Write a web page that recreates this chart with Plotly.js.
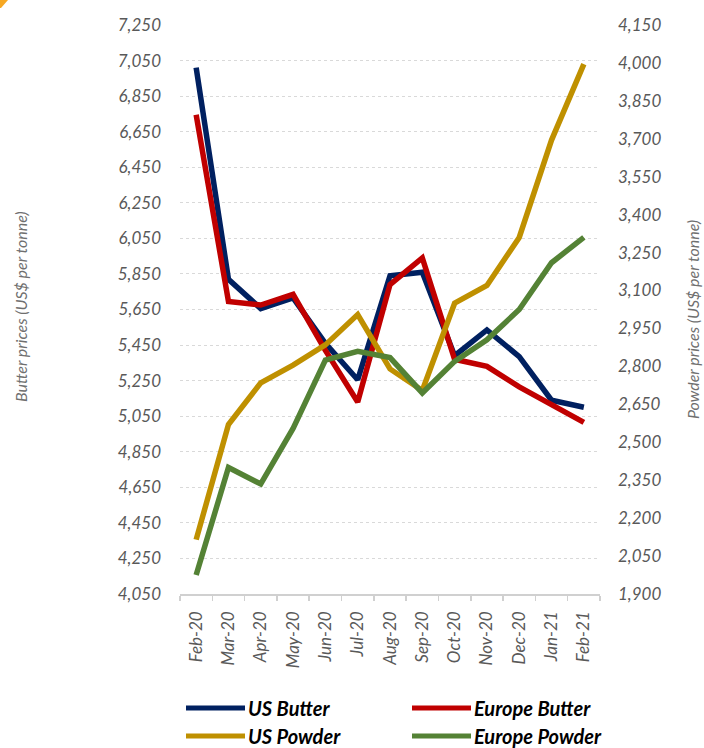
<!DOCTYPE html>
<html>
<head>
<meta charset="utf-8">
<script src="https://cdn.plot.ly/plotly-3.0.1.min.js"></script>
<style>
  html, body { margin: 0; padding: 0; background: #ffffff; }
  #chart { width: 704px; height: 748px; }
</style>
</head>
<body>
<div id="chart"></div>
<script>
// Monthly butter and milk powder prices, US$ per tonne
const months = ['Feb-20', 'Mar-20', 'Apr-20', 'May-20', 'Jun-20', 'Jul-20', 'Aug-20',
                'Sep-20', 'Oct-20', 'Nov-20', 'Dec-20', 'Jan-21', 'Feb-21'];

const usButter     = [7010, 5820, 5655, 5715, 5460, 5255, 5840, 5860, 5390, 5535, 5385, 5140, 5100];
const europeButter = [6745, 5695, 5675, 5735, 5420, 5130, 5790, 5940, 5370, 5330, 5215, 5115, 5015];
const usPowder     = [2115, 2570, 2735, 2805, 2885, 3005, 2790, 2705, 3050, 3120, 3310, 3695, 3995];
const europePowder = [1975, 2400, 2335, 2555, 2825, 2860, 2835, 2695, 2820, 2905, 3025, 3210, 3310];

const seriesNames  = ['US Butter', 'Europe Butter', 'US Powder', 'Europe Powder'];
const seriesColors = ['#002060', '#C00000', '#BF9000', '#548235'];

const W = 704, H = 748;
const M = { l: 180, r: 104, t: 25, b: 154 };
const plotW = W - M.l - M.r;
const plotH = H - M.t - M.b;
// pixel position -> paper coordinates
const px = x => (x - M.l) / plotW;
const py = y => (H - M.b - y) / plotH;

const fam = 'Lato, "Open Sans", sans-serif';
const tickFont = { family: fam, size: 17, color: '#595959', style: 'italic' };
const titleFont = { family: fam, size: 16, color: '#6f6f6f', style: 'italic' };

function lineTrace(values, i, axis) {
  return {
    type: 'scatter',
    mode: 'lines',
    x: months,
    y: values,
    name: seriesNames[i],
    yaxis: axis,
    line: { color: seriesColors[i], width: 5.5 },
    showlegend: false,
    hoverinfo: 'x+y+name'
  };
}

const data = [
  lineTrace(usButter, 0, 'y'),
  lineTrace(europeButter, 1, 'y'),
  lineTrace(usPowder, 2, 'y2'),
  lineTrace(europePowder, 3, 'y2')
];

// Two-column legend under the axis
const legendSlots = [
  { x: 186, y: 708 }, { x: 412, y: 708 },
  { x: 186, y: 736 }, { x: 412, y: 736 }
];
const shapes = legendSlots.map((s, i) => ({
  type: 'line', xref: 'paper', yref: 'paper',
  x0: px(s.x), x1: px(s.x + 59), y0: py(s.y), y1: py(s.y),
  line: { color: seriesColors[i], width: 5 }
}));
// small orange corner mark
shapes.push({
  type: 'path', xref: 'paper', yref: 'paper',
  path: `M ${px(0)} ${py(0)} L ${px(8)} ${py(0)} L ${px(1)} ${py(8)} L ${px(0)} ${py(8)} Z`,
  fillcolor: '#F7A823', line: { width: 0 }
});

const annotations = legendSlots.map((s, i) => ({
  xref: 'paper', yref: 'paper',
  x: px(s.x + 60), y: py(s.y),
  xanchor: 'left', yanchor: 'middle',
  text: seriesNames[i], showarrow: false,
  font: { family: fam, size: 20, color: '#000000', style: 'italic', weight: 'bold' }
}));
annotations.push({
  xref: 'paper', yref: 'paper', x: px(20), y: py(307),
  xanchor: 'center', yanchor: 'middle', textangle: -90,
  text: 'Butter prices (US$ per tonne)', showarrow: false, font: titleFont
});
annotations.push({
  xref: 'paper', yref: 'paper', x: px(693), y: py(320),
  xanchor: 'center', yanchor: 'middle', textangle: -90,
  text: 'Powder prices (US$ per tonne)', showarrow: false, font: titleFont
});

const layout = {
  width: W, height: H,
  margin: M,
  paper_bgcolor: '#ffffff',
  plot_bgcolor: '#ffffff',
  showlegend: false,
  xaxis: {
    type: 'category',
    range: [-0.5, months.length - 0.5],
    tickson: 'boundaries',
    ticks: 'outside', ticklen: 5, tickwidth: 1.5, tickcolor: '#d0d0d0',
    showline: true, linecolor: '#d0d0d0', linewidth: 1.5,
    showgrid: false,
    tickangle: -90,
    tickfont: tickFont,
    ticklabelstandoff: 9,
    fixedrange: true
  },
  yaxis: {
    range: [4050, 7250],
    dtick: 200, tick0: 4050,
    tickformat: ',d',
    tickfont: tickFont,
    showgrid: true, gridcolor: '#d9d9d9', griddash: 'dot', gridwidth: 1,
    zeroline: false, showline: false,
    ticks: '',
    ticklabelstandoff: 18,
    fixedrange: true
  },
  yaxis2: {
    range: [1900, 4150],
    dtick: 150, tick0: 1900,
    tickformat: ',d',
    overlaying: 'y', side: 'right',
    tickfont: tickFont,
    showgrid: false, zeroline: false, showline: false,
    ticks: '',
    ticklabelstandoff: 17,
    fixedrange: true
  },
  shapes: shapes,
  annotations: annotations
};

Plotly.newPlot('chart', data, layout, { displayModeBar: false, staticPlot: true });
</script>
</body>
</html>
